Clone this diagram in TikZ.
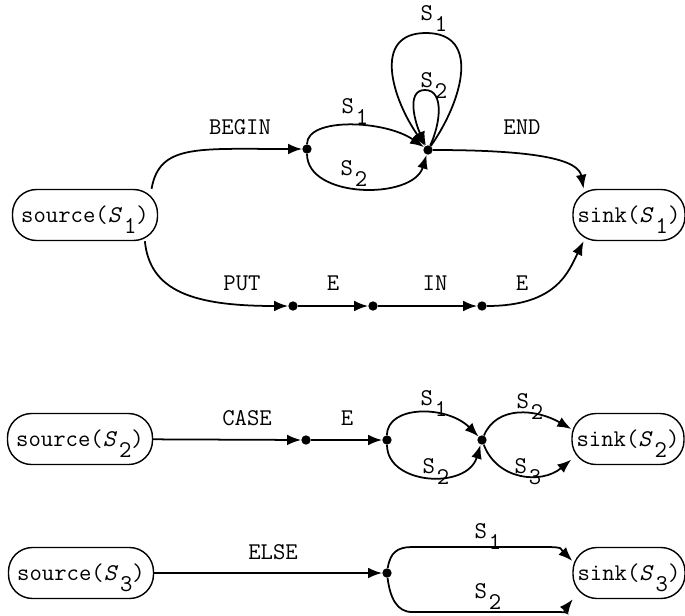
\documentclass[tikz,border=0pt]{standalone}
\usepackage{fontspec}
\usetikzlibrary{arrows.meta}
\newcommand{\lowsub}[1]{\kern0.08em\raisebox{-1.1ex}[0pt][0pt]{#1}}
\begin{document}
\begin{tikzpicture}[x = 0.03cm, y = -0.03cm,
	every node/.style = {font = \ttfamily\fontsize{20.5}{22}\selectfont},
	box/.style = {draw, line width = 1.2pt, rounded corners = 0.72cm, minimum height = 1.53cm, inner sep = 0pt},
	dot/.style = {circle, fill, inner sep = 0pt, minimum size = 0.28cm},
	arr/.style = {line width = 1.5pt, -{Latex[length = 0.42cm, width = 0.32cm]}}]
	
	\useasboundingbox (0, 0) rectangle (685, 615);
	
	% statement
	\node[box, minimum width = 4.35cm] (src1) at (85, 215) {source(\textit{S}\lowsub{1})};
	\node[box, minimum width = 3.36cm] (snk1) at (629, 215) {sink(\textit{S}\lowsub{1})};
	
	\node[dot] (A) at (307, 149) {};
	\node[dot] (B) at (428, 150) {};
	\node[dot] (C1) at (293, 306) {};
	\node[dot] (C2) at (373, 306) {};
	\node[dot] (C3) at (482, 306) {};
	
	\coordinate (bigtop) at (426, 33);
	\coordinate (smalltop) at (425, 90);
	
	\draw[arr] ([xshift = -0.2cm]src1.north east) .. controls +(8, -45) and +(-110, 0) .. (A);
	\draw[arr] (A) .. controls +(0, -32) and +(-43, -30) .. (B);
	\draw[arr] (A) .. controls +(0, 50) and +(-15, 50) .. (B);
	\draw[arr] (B) .. controls +(35, -50) and +(55, 0) .. (bigtop) .. controls +(-55, 0) and +(-35, -50) .. (B);
	\draw[arr] (B) .. controls +(12, -25) and +(20, 0) .. (smalltop) .. controls +(-20, 0) and +(-12, -25) .. (B);
	\draw[arr] (B) .. controls +(115, 0) and +(-5, -28) .. (snk1.150);
	
	\draw[arr] ([xshift = -0.4cm]src1.south east) .. controls +(5, 50) and +(-100, 0) .. (C1);
	\draw[arr] (C1) -- (C2);
	\draw[arr] (C2) -- (C3);
	\draw[arr] (C3) .. controls +(75, 0) and +(-15, 30) .. (snk1.210);
	
	\node (begin) at (240, 127) {BEGIN};
	\node (end) at (522, 127) {END};
	\node (s1a) at (355, 106) {S\lowsub{1}};
	\node (s2a) at (354, 168) {S\lowsub{2}};
	\node (s1loop) at (434, 13) {S\lowsub{1}};
	\node (s2loop) at (434, 80) {S\lowsub{2}};
	\node (put) at (242, 283) {PUT};
	\node (e1) at (333, 283) {E};
	\node (in) at (435, 283) {IN};
	\node (e2) at (522, 283) {E};
	
	% case
	\node[box, minimum width = 4.35cm] (src2) at (80, 439) {source(\textit{S}\lowsub{2})};
	\node[box, minimum width = 3.36cm] (snk2) at (628, 439) {sink(\textit{S}\lowsub{2})};
	
	\node[dot] (D1) at (306, 440) {};
	\node[dot] (D2) at (387, 440) {};
	\node[dot] (D3) at (482, 440) {};
	
	\draw[arr] (src2) -- (D1);
	\draw[arr] (D1) -- (D2);
	\draw[arr] (D2) .. controls +(0, -35) and +(-35, -35) .. (D3);
	\draw[arr] (D2) .. controls +(0, 45) and +(-15, 50) .. (D3);
	\draw[arr] (D3) .. controls +(15, -35) and +(-35, -20) .. (snk2.170);
	\draw[arr] (D3) .. controls +(15, 40) and +(-30, 25) .. (snk2.200);
	
	\node (case) at (247, 418) {CASE};
	\node (e3) at (347, 418) {E};
	\node (s1b) at (434, 398) {S\lowsub{1}};
	\node (s2b) at (436, 466) {S\lowsub{2}};
	\node (s2c) at (530, 401) {S\lowsub{2}};
	\node (s3c) at (528, 466) {S\lowsub{3}};
	
	% else
	\node[box, minimum width = 4.35cm] (src3) at (81, 573) {source(\textit{S}\lowsub{3})};
	\node[box, minimum width = 3.36cm] (snk3) at (629, 573) {sink(\textit{S}\lowsub{3})};
	
	\node[dot] (E1) at (387, 573) {};
	
	\coordinate (u1) at (412, 547);
	\coordinate (u2) at (545, 547);
	\coordinate (v1) at (412, 612);
	\coordinate (v2) at (555, 612);
	
	\draw[arr] (src3) -- (E1);
	\draw[arr] (E1) .. controls +(3, -20) and +(-15, 0) .. (u1) -- (u2) .. controls +(20, 0) and +(-12, -12) .. (snk3.168);
	\draw[arr] (E1) .. controls +(3, 25) and +(-15, 0) .. (v1) -- (v2) .. controls +(20, 0) and +(-12, 15) .. (snk3.205);
	
	\node (else) at (273, 552) {ELSE};
	\node (s1d) at (488, 531) {S\lowsub{1}};
	\node (s2d) at (488, 591) {S\lowsub{2}};
%	
\end{tikzpicture}
\end{document}
